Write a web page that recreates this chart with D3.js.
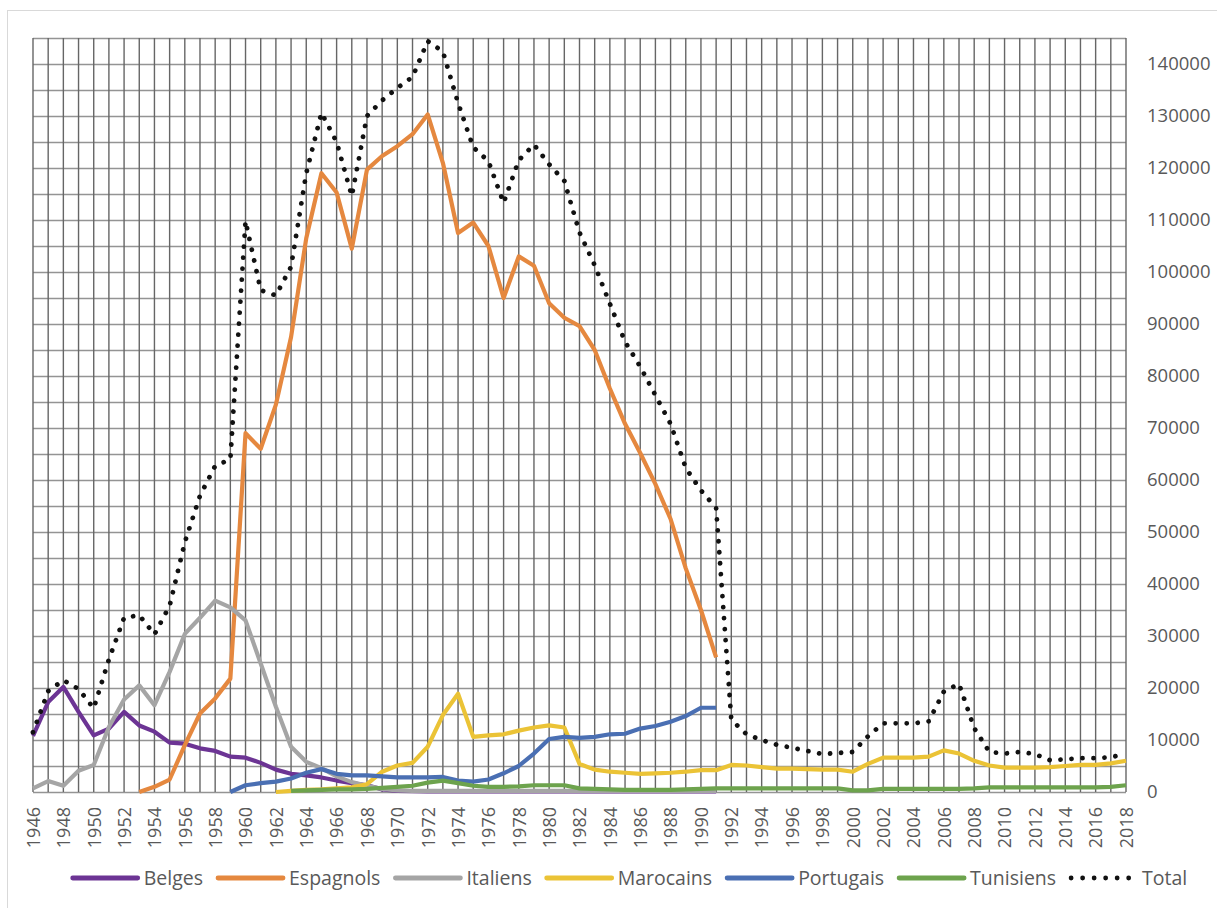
<!DOCTYPE html>
<html>
<head>
<meta charset="utf-8">
<script src="https://cdn.jsdelivr.net/npm/d3@7"></script>
<style>
  html, body { margin: 0; padding: 0; background: #fff; }
  svg { display: block; font-family: "Open Sans", sans-serif; }
</style>
</head>
<body>
<div id="chart"></div>
<script>
// categories
const firstYear = 1946;
const lastYear = 2018;
const years = d3.range(firstYear, lastYear + 1);
const yearLabels = years.filter((y) => y % 2 === 0);
const yTicks = d3.range(0, 140001, 10000);

// series values, each starting at its own year
const belgesStart = 1946;
const belges = [10800, 17300, 20200, 15400, 10900, 12200, 15400, 12800, 11600, 9500,
  9300, 8400, 7900, 6800, 6600, 5600, 4300, 3500, 3200, 2800,
  2200, 1700, 1300, 500, 200, 150, 100, 100, 100, 100,
  100, 100, 100, 100, 100, 100, 100, 100, 100, 100,
  100, 100, 100, 100, 100, 100];

const espagnolsStart = 1953;
const espagnols = [0, 1000, 2400, 9000, 15100, 18000, 21800, 69000, 66000, 74500,
  87500, 106500, 119000, 115300, 104500, 119700, 122300, 124200, 126500, 130300,
  121000, 107500, 109500, 105000, 95000, 103000, 101200, 94000, 91200, 89600,
  85000, 77600, 70800, 65200, 59200, 52500, 43000, 35000, 25900];

const italiensStart = 1946;
const italiens = [700, 2100, 1200, 4100, 5200, 12500, 17800, 20500, 16700, 23100,
  30400, 33500, 36800, 35500, 33000, 24700, 16400, 8700, 5800, 4600,
  3000, 1900, 1200, 600, 300, 200, 200, 200, 200, 200,
  200, 200, 200, 200, 200, 200, 200, 200, 200, 200,
  200, 200, 200, 200, 200, 200];

const marocainsStart = 1962;
const marocains = [0, 200, 400, 500, 700, 900, 1500, 3900, 5100, 5600,
  8700, 14800, 18900, 10600, 10900, 11100, 11800, 12400, 12800, 12400,
  5400, 4300, 3900, 3700, 3500, 3600, 3700, 3900, 4200, 4200,
  5200, 5100, 4800, 4500, 4500, 4400, 4300, 4300, 3900, 5400,
  6600, 6600, 6600, 6800, 8000, 7400, 6000, 5100, 4700, 4700,
  4700, 4800, 5000, 5200, 5200, 5500, 6000];

const portugaisStart = 1959;
const portugais = [0, 1300, 1700, 2000, 2600, 3700, 4400, 3500, 3200, 3200,
  3000, 2800, 2800, 2800, 2900, 2200, 2000, 2400, 3600, 5000,
  7400, 10200, 10600, 10400, 10600, 11100, 11200, 12200, 12700, 13500,
  14600, 16200, 16200];

const tunisiensStart = 1963;
const tunisiens = [200, 300, 400, 500, 500, 600, 800, 1000, 1200, 1800,
  2200, 1700, 1200, 1000, 1000, 1100, 1300, 1300, 1300, 700,
  600, 500, 400, 400, 400, 400, 500, 600, 700, 700,
  700, 700, 700, 700, 700, 700, 700, 300, 300, 600,
  600, 600, 600, 600, 600, 700, 900, 900, 900, 900,
  900, 900, 900, 900, 1000, 1300];

const totalStart = 1946;
const total = [11500, 19400, 21500, 19800, 16100, 25500, 33500, 34000, 30300, 35800,
  48000, 57000, 62700, 64000, 109800, 96500, 95500, 101000, 119000, 130600,
  125000, 114600, 130000, 133000, 135400, 137500, 144400, 142400, 132500, 124000,
  121300, 113300, 121500, 124500, 120700, 117500, 107600, 101300, 93900, 86600,
  81800, 76300, 70800, 62300, 58000, 54600, 13900, 11100, 10000, 9100,
  8500, 7900, 7300, 7500, 7700, 10700, 13200, 13200, 13200, 13600,
  19300, 20800, 12300, 7700, 7400, 7700, 7300, 6100, 6300, 6500,
  6500, 6700, 7300];

const seriesNames = ["Belges", "Espagnols", "Italiens", "Marocains", "Portugais", "Tunisiens", "Total"];
const seriesColors = ["#6c3494", "#e5883f", "#a5a5a5", "#ebc336", "#4a6fb3", "#6da34d", "#111111"];

const series = [
  [belgesStart, belges],
  [espagnolsStart, espagnols],
  [italiensStart, italiens],
  [marocainsStart, marocains],
  [portugaisStart, portugais],
  [tunisiensStart, tunisiens],
  [totalStart, total],
].map(([start, values], i) => ({
  name: seriesNames[i],
  color: seriesColors[i],
  dotted: seriesNames[i] === "Total",
  points: values.map((v, j) => ({ year: start + j, value: v })),
}));

const width = 1217;
const height = 908;
const marginLeft = 33;
const marginRight = 91;
const marginTop = 38;
const marginBottom = 116;

const svg = d3.select("#chart").append("svg").attr("width", width).attr("height", height);

// chart area border
svg.append("rect")
  .attr("x", 7.5).attr("y", 10.5)
  .attr("width", width).attr("height", height)
  .attr("fill", "none").attr("stroke", "#d9d9d9");

const x = d3.scalePoint().domain(years).range([marginLeft, width - marginRight]);
const y = d3.scaleLinear().domain([0, 145000]).range([height - marginBottom, marginTop]);

// grid
const gridG = svg.append("g").attr("class", "grid-g");
gridG.selectAll(".h-grid")
  .data(d3.range(0, 145001, 5000))
  .join("line")
  .attr("class", "h-grid")
  .attr("x1", marginLeft).attr("x2", width - marginRight)
  .attr("y1", (d) => Math.round(y(d)) + 0.5).attr("y2", (d) => Math.round(y(d)) + 0.5)
  .attr("stroke", "#949494").attr("stroke-width", 1.3);
gridG.selectAll(".v-grid")
  .data(years)
  .join("line")
  .attr("class", "v-grid")
  .attr("x1", (d) => x(d)).attr("x2", (d) => x(d))
  .attr("y1", marginTop).attr("y2", height - marginBottom)
  .attr("stroke", "#666").attr("stroke-width", 1.4);

// axes
const yAxisG = svg.append("g")
  .attr("transform", `translate(${width - marginRight},0)`)
  .call(d3.axisRight(y).tickValues(yTicks).tickSize(0).tickPadding(21).tickFormat(d3.format("d")));
yAxisG.select(".domain").remove();
yAxisG.selectAll("text").attr("fill", "#595959").attr("font-size", 18.5).attr("font-family", "Open Sans, sans-serif");

const xAxisG = svg.append("g")
  .attr("transform", `translate(0,${height - marginBottom})`)
  .call(d3.axisBottom(x).tickValues(yearLabels).tickSize(0));
xAxisG.select(".domain").remove();
xAxisG.selectAll("text")
  .attr("fill", "#595959").attr("font-size", 18).attr("font-family", "Open Sans, sans-serif")
  .attr("text-anchor", "end")
  .attr("x", 0).attr("y", 0).attr("dy", "0.35em")
  .attr("transform", "translate(0,15) rotate(-90)");

// lines
const line = d3.line().x((d) => x(d.year)).y((d) => y(d.value));
const linesG = svg.append("g").attr("fill", "none").attr("stroke-linejoin", "round");
linesG.selectAll(".series-path")
  .data(series)
  .join("path")
  .attr("class", "series-path")
  .attr("d", (d) => line(d.points))
  .attr("stroke", (d) => d.color)
  .attr("stroke-width", (d) => (d.dotted ? 4.8 : 4.2))
  .attr("stroke-linecap", (d) => (d.dotted ? "round" : "butt"))
  .attr("stroke-dasharray", (d) => (d.dotted ? "0.01 11" : null));

// legend
const legendG = svg.append("g").attr("font-size", 19.5).attr("fill", "#595959");
const legendLine = 65;
const legendGap = 6;
const legendSpacing = 15;
const items = legendG.selectAll(".legend-item")
  .data(series)
  .join("g")
  .attr("class", "legend-item");
items.append("line")
  .attr("x1", 0).attr("x2", legendLine)
  .attr("stroke", (d) => d.color)
  .attr("stroke-width", 4.8)
  .attr("stroke-linecap", "round")
  .attr("stroke-dasharray", (d) => (d.dotted ? "0.01 11.5" : null));
items.append("text")
  .attr("x", legendLine + legendGap)
  .attr("dy", "0.35em")
  .text((d) => d.name);
let cursor = 0;
items.each(function () {
  const w = legendLine + legendGap + d3.select(this).select("text").node().getComputedTextLength();
  d3.select(this).attr("data-x", cursor);
  cursor += w + legendSpacing;
});
const legendWidth = cursor - legendSpacing;
const legendX = 630 - legendWidth / 2;
items.attr("transform", function () {
  return `translate(${legendX + +this.getAttribute("data-x")},878)`;
});
</script>
</body>
</html>
